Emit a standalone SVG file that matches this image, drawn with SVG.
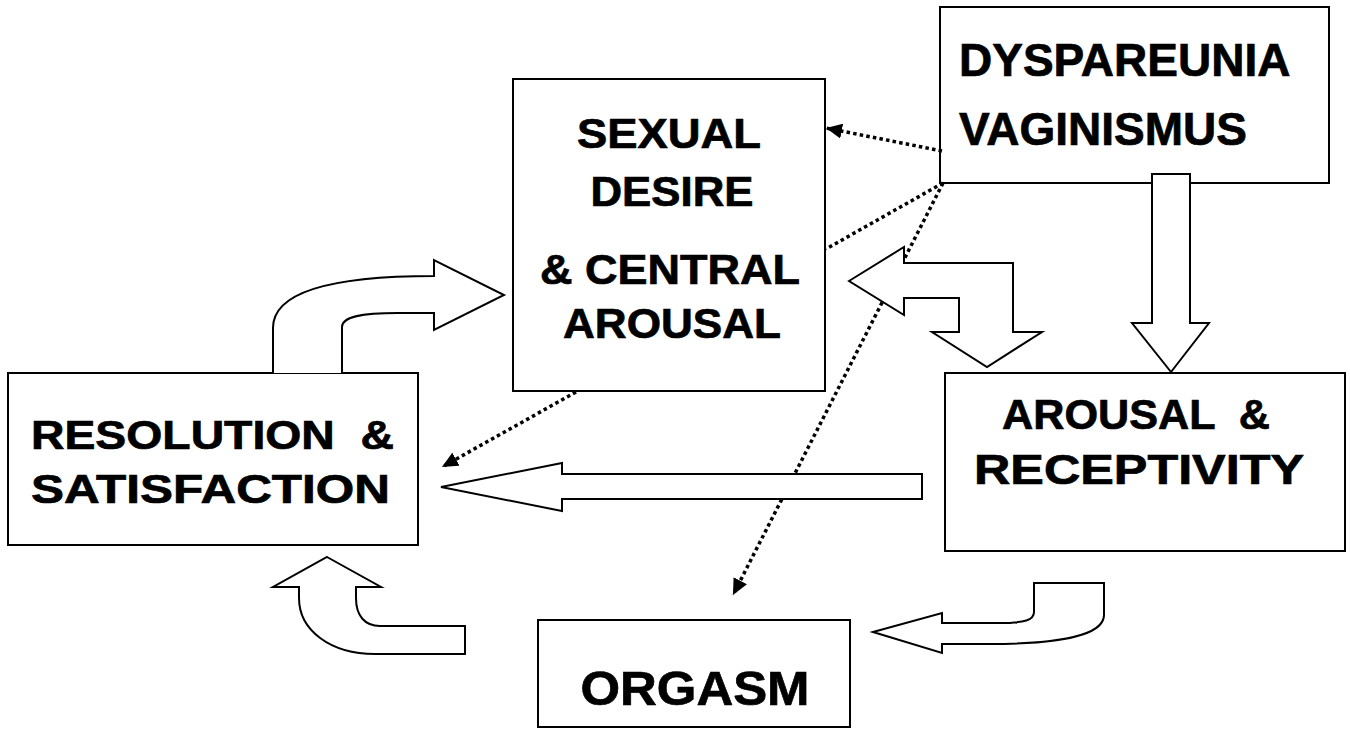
<svg xmlns="http://www.w3.org/2000/svg" width="1350" height="730" viewBox="0 0 1350 730">
<style>
.box{fill:#fff;stroke:#000;stroke-width:2}
.blk{fill:#fff;stroke:#000;stroke-width:2;stroke-linejoin:miter}
.dot{fill:none;stroke:#000;stroke-width:3.5;stroke-dasharray:3.5 3.2}
.t{font-family:"Liberation Sans",Arial,sans-serif;font-weight:bold;fill:#000;stroke:#000;stroke-width:0.7}
</style>
<defs>
<marker id="ah" markerUnits="userSpaceOnUse" markerWidth="17" markerHeight="15" refX="16" refY="7.5" orient="auto">
<path d="M0,0 L16,7.5 L0,15 z" fill="#000"/>
</marker>
</defs>
<rect width="1350" height="730" fill="#fff"/>
<g id="desire">
<rect class="box" x="513" y="79" width="312" height="312"/>
<text class="t" font-size="42" text-anchor="middle" x="669" y="148" textLength="184" lengthAdjust="spacingAndGlyphs">SEXUAL</text>
<text class="t" font-size="42" text-anchor="middle" x="672" y="206" textLength="163" lengthAdjust="spacingAndGlyphs">DESIRE</text>
<text class="t" font-size="42" text-anchor="middle" x="670" y="284" textLength="260" lengthAdjust="spacingAndGlyphs">&amp; CENTRAL</text>
<text class="t" font-size="42" text-anchor="middle" x="672" y="338" textLength="218" lengthAdjust="spacingAndGlyphs">AROUSAL</text>
</g>
<g id="dyspareunia">
<rect class="box" x="940" y="7" width="389" height="176"/>
<text class="t" font-size="46" x="959" y="76">DYSPAREUNIA</text>
<text class="t" font-size="46" x="959" y="145">VAGINISMUS</text>
</g>
<g id="resolution">
<rect class="box" x="8" y="373" width="410" height="172"/>
<text class="t" font-size="40" x="31" y="449" xml:space="preserve" textLength="363" lengthAdjust="spacingAndGlyphs">RESOLUTION  &amp;</text>
<text class="t" font-size="40" x="31" y="503" textLength="359" lengthAdjust="spacingAndGlyphs">SATISFACTION</text>
</g>
<g id="arousal">
<rect class="box" x="945" y="373" width="400" height="178"/>
<text class="t" font-size="42" text-anchor="middle" x="1136" y="429" xml:space="preserve" textLength="268" lengthAdjust="spacingAndGlyphs">AROUSAL  &amp;</text>
<text class="t" font-size="42" text-anchor="middle" x="1139" y="484" textLength="330" lengthAdjust="spacingAndGlyphs">RECEPTIVITY</text>
</g>
<g id="orgasm">
<rect class="box" x="538" y="620" width="312" height="107"/>
<text class="t" font-size="48" text-anchor="middle" x="695" y="705" textLength="229" lengthAdjust="spacingAndGlyphs">ORGASM</text>
</g>
<g id="connectors">
<line class="dot" x1="942" y1="151" x2="826" y2="128" marker-end="url(#ah)"/>
<line class="dot" x1="943" y1="183" x2="826" y2="249"/>
<line class="dot" x1="943" y1="183" x2="733" y2="595" marker-end="url(#ah)"/>
<line class="dot" x1="576" y1="392" x2="442" y2="467" marker-end="url(#ah)"/>
<path class="blk" d="M273,373 V328 C273,292 330,276 434,276 V260 L504,295 L434,330 V313 H398 C360,313 342,317 342,327 V373"/>
<path class="blk" d="M849,281 L904,247 V263 H1013 V332 H1042 L987,367 L932,332 H959 V298 H904 V315 Z"/>
<path class="blk" d="M1152,174 H1190 V323 H1209 L1171,372 L1132,323 H1152 Z"/>
<path class="blk" d="M441,487 L562,463 V474 H922 V499 H562 V511 Z"/>
<path class="blk" d="M327,557 L381,587 H356 V598 C356,616 365,626 380,626 H465 V654 H375 C330,654 299,630 299,598 V587 H273 Z"/>
<path class="blk" d="M873,632 L942,613 V623 H1000 C1025,623 1034,620 1034,612 V583 H1104 V615 C1104,635 1060,644 990,644 H942 V653 Z"/>
</g>
</svg>
